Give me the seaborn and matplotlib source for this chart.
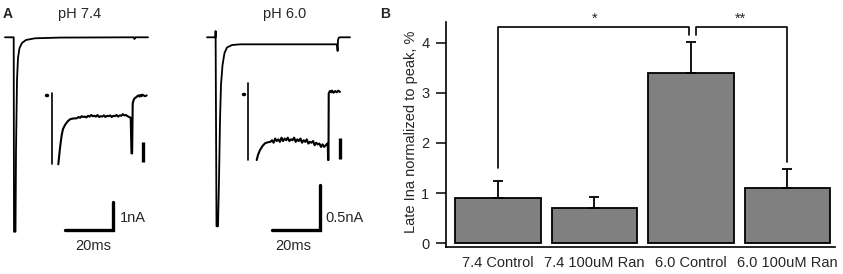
import matplotlib
matplotlib.use("Agg")
import matplotlib.pyplot as plt
import numpy as np
import pandas as pd
import seaborn as sns

# ---- panel A: whole-cell Na current traces (ms, nA) ----
t_ph74 = [-3.63, 0, 0.13, 0.75, 0.96, 1.38, 1.79, 2.42, 3.46, 5.13, 8.88, 19.3, 50.1, 50.3, 50.75, 55.96]
i_ph74 = [0, 0, -6.87, -6.87, -3.98, -1.51, -0.73, -0.38, -0.20, -0.095, -0.035, -0.01, 0, -0.06, 0, 0]

t_ph60 = [-3.54, 0, 0.04, 0.42, 1.04, 1.46, 1.88, 2.29, 2.92, 3.75, 4.79, 6.88, 10.2, 50.6, 50.88, 51.04,
          51.46, 52.3, 56.04]
i_ph60 = [0, 0, 0.07, -2.10, -2.10, -1.585, -0.92, -0.53, -0.31, -0.174, -0.113, -0.086, -0.078, -0.078,
          -0.152, -0.03, -0.002, 0, 0]

# insets: late current, expanded (ms, pA)
late74_t = ([4.18, 5.25, 6.33, 7.15, 8.42, 10.0, 11.58, 13.48, 15.82]
            + list(range(16, 51))
            + [50.5, 50.9, 51.27, 52.1, 53.8, 54.5, 55, 55.6, 56.2, 56.8, 57.4, 58, 58.6, 59.2, 60.1])
late74_i = ([-173.3, -132.5, -100, -85, -75, -66.3, -60.75, -58.75, -58.25]
            + [-58, -55, -57, -53, -55, -54, -56, -52, -54, -50, -53, -52, -54, -50, -55, -53, -54, -51,
               -55, -52, -53, -51, -55, -52, -53, -50, -54, -51, -52, -48, -51, -50, -53, -55, -57]
            + [-146, -146, -20.75, -10, -4.25, -2, -1, -4, 0, -3, 1, -1, -2, -3, -1])

late60_t = ([5.32, 6.14, 7.41, 9.0, 10.57, 12.2]
            + list(range(14, 51))
            + [50.3, 50.5, 50.75, 50.9, 51.7, 52.5, 53, 54, 55, 56, 57, 58])
late60_i = ([-78.6, -72.6, -66.7, -61.9, -58.7, -57.5]
            + [-57, -55, -58, -53, -56, -54, -57, -52, -56, -53, -55, -52, -56, -54, -55, -52, -57, -54,
               -56, -53, -58, -55, -57, -54, -59, -57, -58, -56, -61, -58, -60, -59, -63, -60, -63, -61, -59]
            + [-60, -78.6, -78.6, 0.8, 3.6, 2, 4, 1.5, 3.5, 2, 4, 2.5])

# ---- panel B: late Ina ----
groups = ["7.4 Control", "7.4 100uM Ran", "6.0 Control", "6.0 100uM Ran"]
late_pct = [0.90, 0.70, 3.40, 1.10]
sem_pct = [0.34, 0.22, 0.62, 0.37]

W, H = 843, 274


def trace_axes(fig, x0, y0, ppx, ppy):
    # full-figure overlay; data origin at pixel (x0, y0), scale in px per unit
    ax = fig.add_axes([0, 0, 1, 1])
    ax.set_xlim(-x0 / ppx, (W - x0) / ppx)
    ax.set_ylim((y0 - H) / ppy, y0 / ppy)
    ax.axis("off")
    ax.patch.set_alpha(0)
    return ax


def line(ax, t, i, lw):
    sns.lineplot(x=t, y=i, sort=False, estimator=None, color="black", lw=lw, ax=ax)


def main():
    sns.set_theme(style="white")
    plt.rcParams["font.family"] = ["Liberation Sans", "DejaVu Sans"]
    fig = plt.figure(figsize=(W / 100, H / 100), dpi=100)

    # pH 7.4 main trace + scale bar
    a1 = trace_axes(fig, 13.7, 37.3, 2.4, 28.3)
    line(a1, t_ph74, i_ph74, 1.3)
    a1.plot([21.4, 41.4, 41.4], [-6.81, -6.81, -5.81], color="black", lw=2.4, solid_joinstyle="miter")
    a1.text(44.3, -6.39, "1nA", fontsize=10.5, va="center", ha="left")
    a1.text(33.0, -7.37, "20ms", fontsize=10.5, va="center", ha="center")

    # pH 6.0 main trace + scale bar
    a2 = trace_axes(fig, 215.5, 37.3, 2.4, 90)
    line(a2, t_ph60, i_ph60, 1.3)
    a2.plot([23.7, 43.7, 43.7], [-2.14, -2.14, -1.64], color="black", lw=2.4, solid_joinstyle="miter")
    a2.text(45.6, -2.01, "0.5nA", fontsize=10.5, va="center", ha="left")
    a2.text(32.3, -2.32, "20ms", fontsize=10.5, va="center", ha="center")

    # insets
    b1 = trace_axes(fig, 51.7, 95, 1.58, 0.4)
    b1.plot([-3.92, -2.66], [0, 0], color="black", lw=2.5)
    b1.plot([0, 0], [4.25, -173.3], color="black", lw=1.2)
    line(b1, late74_t, late74_i, 1.5)
    b1.plot([57.97, 57.97], [-116.75, -166.75], color="black", lw=2.4, solid_capstyle="butt")

    b2 = trace_axes(fig, 248.3, 94, 1.58, 0.84)
    b2.plot([-3.67, -2.53], [0, 0], color="black", lw=2.5)
    b2.plot([0, 0], [12.7, -78.6], color="black", lw=1.2)
    line(b2, late60_t, late60_i, 1.5)
    b2.plot([58.04, 58.04], [-52.7, -77.7], color="black", lw=2.4, solid_capstyle="butt")

    fig.text(80 / W, 1 - 14 / H, "pH 7.4", fontsize=10.5, ha="center", va="center")
    fig.text(285 / W, 1 - 14 / H, "pH 6.0", fontsize=10.5, ha="center", va="center")
    fig.text(8 / W, 1 - 14 / H, "A", fontsize=10, fontweight="bold", ha="center", va="center")
    fig.text(385 / W, 1 - 14 / H, "B", fontsize=10, fontweight="bold", ha="center", va="center")

    # panel B bar chart
    ax = fig.add_axes([446 / W, 1 - 246.7 / H, 389 / W, (246.7 - 22) / H])
    df = pd.DataFrame({"group": groups, "late": late_pct})
    sns.barplot(data=df, x="group", y="late", order=groups, color="#808080", saturation=1,
                edgecolor="black", linewidth=1.3, width=0.886, errorbar=None, ax=ax)
    ax.errorbar(np.arange(len(groups)), late_pct, yerr=[np.zeros(len(groups)), sem_pct], fmt="none",
                ecolor="black", elinewidth=1.3, capsize=3.5, capthick=1.3)
    ax.set_xlim(-0.538, 3.493)
    ax.set_ylim(-0.07, 4.41)
    ax.set_yticks([0, 1, 2, 3, 4])
    ax.set_xlabel("")
    ax.set_ylabel("Late Ina normalized to peak, %", fontsize=10.5)
    ax.yaxis.set_label_coords(-0.072, 0.513)
    sns.despine(ax=ax)
    for s in ("left", "bottom"):
        ax.spines[s].set_color("black")
        ax.spines[s].set_linewidth(1.2)
    ax.tick_params(axis="y", length=7.5, width=1.1, color="black", pad=4.5, labelsize=10.5, left=True)
    ax.tick_params(axis="x", length=0, pad=7, labelsize=10.5)

    # significance brackets
    ax.plot([0, 0, 1.98, 1.98], [1.50, 4.31, 4.31, 4.15], color="black", lw=1.2, clip_on=False)
    ax.plot([2.05, 2.05, 3.0, 3.0], [4.15, 4.31, 4.31, 1.625], color="black", lw=1.2, clip_on=False)
    ax.text(1.0, 4.47, "*", fontsize=10.5, ha="center", va="center")
    ax.text(2.51, 4.47, "**", fontsize=10.5, ha="center", va="center")

    fig.savefig("out.png", dpi=100)
    plt.close(fig)


if __name__ == "__main__":
    main()
